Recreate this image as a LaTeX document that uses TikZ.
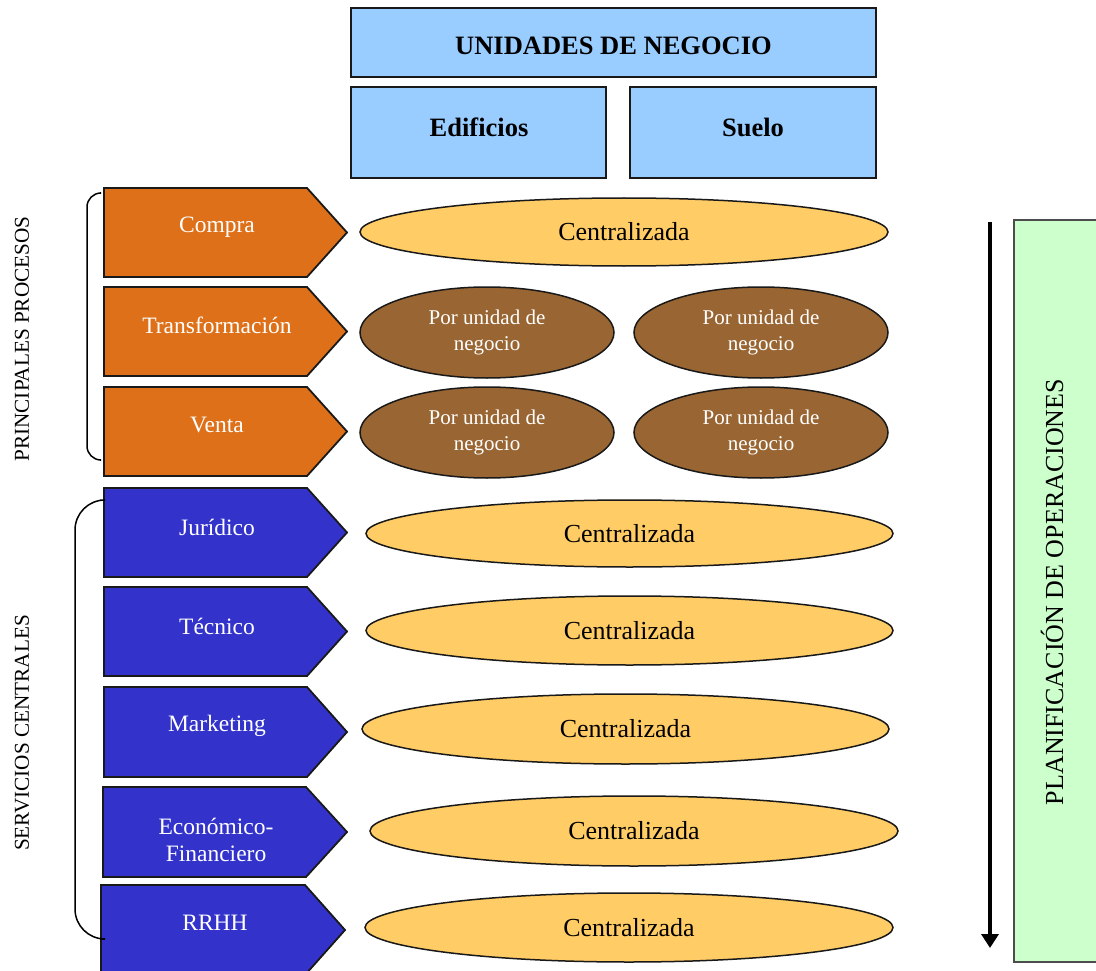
\documentclass[tikz,border=0pt]{standalone}
\usepackage{fontspec}
\setmainfont{Liberation Serif}
\usetikzlibrary{shapes.geometric,arrows.meta}
\definecolor{lblue}{RGB}{153,204,255}
\definecolor{orng}{RGB}{221,112,24}
\definecolor{dblue}{RGB}{51,51,204}
\definecolor{brwn}{RGB}{153,102,51}
\definecolor{yllw}{RGB}{255,204,102}
\definecolor{lgreen}{RGB}{204,255,204}
\tikzset{
  unitbox/.style={draw=black!90,line width=1.5pt,fill=lblue},
  unittxt/.style={font=\fontsize{26.5}{30}\selectfont\bfseries,text=black},
  procshape/.style={draw=black!90,line width=1.8pt,fill=#1},
  proctxt/.style={font=\fontsize{23.5}{27}\selectfont,text=white,align=center},
  central/.style={ellipse,draw=black!90,line width=1.5pt,fill=yllw,inner sep=0pt,
    font=\fontsize{26}{30}\selectfont},
  porunidad/.style={ellipse,draw=black!90,line width=1.5pt,fill=brwn,inner sep=0pt,
    text=white,align=center,minimum width=254pt,minimum height=91pt,
    font=\fontsize{21}{25.5}\selectfont},
  sidetxt/.style={rotate=90,font=\fontsize{21.2}{24}\selectfont},
  bracket/.style={draw=black,line width=1.5pt},
}
\begin{document}
\begin{tikzpicture}[x=1pt,y=-1pt]
\useasboundingbox (0,0) rectangle (1096,971);
\clip (0,0) rectangle (1096,971);
% header boxes
\draw[unitbox] (351,8) rectangle (876,77);
\node[unittxt] (unidades) at (613.5,46) {UNIDADES DE NEGOCIO};
\draw[unitbox] (351,87) rectangle (606,178);
\node[unittxt] (edificios) at (479,127) {Edificios};
\draw[unitbox] (630,87) rectangle (876,178);
\node[unittxt] (suelo) at (753,127) {Suelo};
% process arrows
\draw[procshape=orng] (104,188) -- (307,188) -- (347,232.5) -- (307,277) -- (104,277) -- cycle;
\node[proctxt] (compra) at (217,227) {Compra};
\draw[procshape=orng] (104,287) -- (307,287) -- (347,331.5) -- (307,376) -- (104,376) -- cycle;
\node[proctxt] (transf) at (217,325) {Transformación};
\draw[procshape=orng] (104,387) -- (307,387) -- (347,431.5) -- (307,476) -- (104,476) -- cycle;
\node[proctxt] (venta) at (217,425) {Venta};
\draw[procshape=dblue] (104,488) -- (307,488) -- (347,532.5) -- (307,577) -- (104,577) -- cycle;
\node[proctxt] (juridico) at (217,527) {Jurídico};
\draw[procshape=dblue] (104,587) -- (307,587) -- (347,631.5) -- (307,676) -- (104,676) -- cycle;
\node[proctxt] (tecnico) at (217,626) {Técnico};
\draw[procshape=dblue] (104,687) -- (307,687) -- (347,732) -- (307,777) -- (104,777) -- cycle;
\node[proctxt] (marketing) at (217,726) {Marketing};
\draw[procshape=dblue] (103,787) -- (306,787) -- (347,832) -- (306,877) -- (103,877) -- cycle;
\node[proctxt] (economico) at (216,840) {Económico-\\Financiero};
\draw[procshape=dblue] (101,885) -- (305,885) -- (345,930) -- (305,975) -- (101,975) -- cycle;
\node[proctxt] (rrhh) at (215,923) {RRHH};
% ellipses
\node[central,minimum width=528pt,minimum height=68pt] (c1) at (624,232) {Centralizada};
\node[porunidad] (p1) at (487,332.5) {Por unidad de\\negocio};
\node[porunidad] (p2) at (761,332.5) {Por unidad de\\negocio};
\node[porunidad] (p3) at (487,432.5) {Por unidad de\\negocio};
\node[porunidad] (p4) at (761,432.5) {Por unidad de\\negocio};
\node[central,minimum width=527pt,minimum height=67pt] (c2) at (629.5,533.5) {Centralizada};
\node[central,minimum width=527pt,minimum height=69pt] (c3) at (629.5,630.5) {Centralizada};
\node[central,minimum width=527pt,minimum height=70pt] (c4) at (625.5,729) {Centralizada};
\node[central,minimum width=528pt,minimum height=70pt] (c5) at (634,831) {Centralizada};
\node[central,minimum width=528pt,minimum height=69pt] (c6) at (629,927.5) {Centralizada};
% brackets
\draw[bracket,rounded corners=14pt] (100,193) -- (87,193) -- (87,460) -- (100,460);
\draw[bracket,rounded corners=30pt] (100,500) -- (75,500) -- (75,939) -- (100,939);
\node[sidetxt] (pp) at (22,339) {PRINCIPALES PROCESOS};
\node[sidetxt] (sc) at (22,733) {SERVICIOS CENTRALES};
% planning
\draw[draw=black!70,line width=1.2pt,fill=lgreen] (1014,220) rectangle (1110,962);
\node[rotate=90,font=\fontsize{26}{30}\selectfont] (plan) at (1052,592) {PLANIFICACIÓN DE OPERACIONES};
\coordinate (at) at (990,222);
\coordinate (ab) at (990,948);
\draw[line width=3.5pt,-{Triangle[width=17pt,length=14pt]}] (at) -- (ab);
\end{tikzpicture}
\end{document}
